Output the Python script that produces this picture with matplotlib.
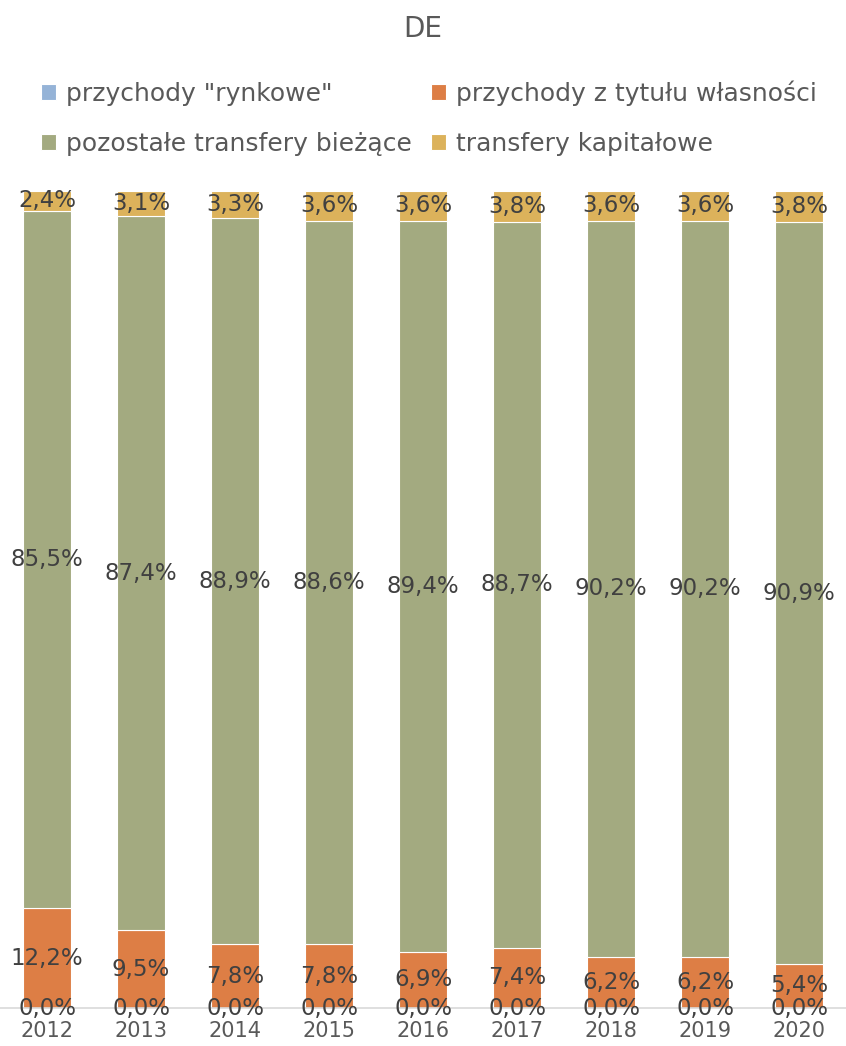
import matplotlib
matplotlib.use("Agg")
import matplotlib.pyplot as plt
import numpy as np

years = ["2012", "2013", "2014", "2015", "2016", "2017", "2018", "2019", "2020"]
series_names = ['przychody "rynkowe"', "przychody z tytułu własności",
                "pozostałe transfery bieżące", "transfery kapitałowe"]
rynkowe = [0.0, 0.0, 0.0, 0.0, 0.0, 0.0, 0.0, 0.0, 0.0]
wlasnosc = [12.2, 9.5, 7.8, 7.8, 6.9, 7.4, 6.2, 6.2, 5.4]
biezace = [85.5, 87.4, 88.9, 88.6, 89.4, 88.7, 90.2, 90.2, 90.9]
kapitalowe = [2.4, 3.1, 3.3, 3.6, 3.6, 3.8, 3.6, 3.6, 3.8]
colors = ["#95B3D7", "#DD7E45", "#A3AA80", "#DCB25B"]

data = np.array([rynkowe, wlasnosc, biezace, kapitalowe])
shares = data / data.sum(axis=0) * 100

fig = plt.figure(figsize=(8.46, 10.46), dpi=100)
ax = fig.add_axes([0.0, 0.0363, 1.0, 0.781])

x = np.arange(len(years))
bottom = np.zeros(len(years))
handles = []
for i, name in enumerate(series_names):
    h = ax.bar(x, shares[i], 0.51, bottom=bottom, color=colors[i],
               edgecolor="white", linewidth=0.8, label=name)
    handles.append(h)
    for j in range(len(years)):
        lbl = f"{data[i, j]:.1f}%".replace(".", ",")
        ax.text(x[j], bottom[j] + shares[i, j] / 2, lbl, ha="center", va="center",
                fontsize=16.5, color="#404040")
    bottom += shares[i]

ax.set_xlim(-0.5, len(years) - 0.5)
ax.set_ylim(0, 100)
ax.set_xticks(x)
ax.set_xticklabels(years, fontsize=15, color="#595959")
ax.tick_params(axis="x", length=0, pad=9)
ax.set_yticks([])
for s in ["top", "left", "right"]:
    ax.spines[s].set_visible(False)
ax.spines["bottom"].set_color("#D9D9D9")
ax.spines["bottom"].set_linewidth(1.2)

fig.text(0.5, 0.972, "DE", ha="center", va="center", fontsize=20, color="#595959")

order = [0, 2, 1, 3]
fig.legend([handles[k] for k in order], [series_names[k] for k in order],
           ncol=2, loc="upper left", bbox_to_anchor=(0.037, 0.933),
           frameon=False, fontsize=18, labelcolor="#595959",
           handlelength=0.6, handleheight=0.6, handletextpad=0.4,
           columnspacing=0.75, labelspacing=1.05, borderaxespad=0)

fig.savefig("out.png", dpi=100)
